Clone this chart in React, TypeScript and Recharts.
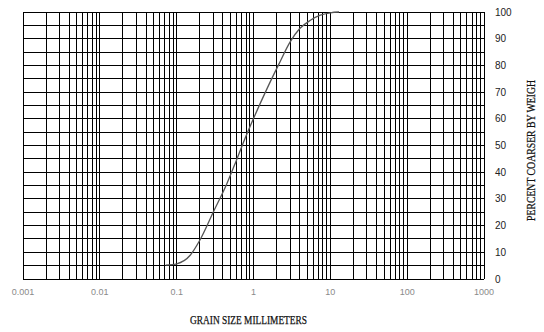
import React from 'react';
import { LineChart, Line, XAxis, YAxis, ReferenceLine, Label } from 'recharts';

const grainSize = [0.072, 0.1, 0.15, 0.2, 0.3, 0.45, 0.6, 0.78, 1.0, 1.5, 2.1, 3.0, 4.0, 5.5, 7.4, 10, 13];
const percentCoarser = [5.2, 5.7, 8.9, 14.5, 25.1, 35.7, 44.5, 52.8, 60.1, 71.3, 80.0, 88.8, 93.8, 96.9, 98.8, 99.7, 100];

const xTicks = [0.001, 0.01, 0.1, 1, 10, 100, 1000];
const xTickLabels = ['0.001', '0.01', '0.1', '1', '10', '100', '1000'];
const yTicks = [0, 10, 20, 30, 40, 50, 60, 70, 80, 90, 100];
const decades = [0.001, 0.01, 0.1, 1, 10, 100];
const minorMultipliers = [1, 2, 3, 4, 5, 6, 7, 8, 9];
const yGrid = [0, 5, 10, 15, 20, 25, 30, 35, 40, 45, 50, 55, 60, 65, 70, 75, 80, 85, 90, 95, 100];

const xGrid: number[] = [];
decades.forEach((d) => minorMultipliers.forEach((m) => xGrid.push(+(d * m).toPrecision(3))));
xGrid.push(1000);

const data = grainSize.map((s, i) => ({ size: s, pct: percentCoarser[i] }));

const labelFont = '"Liberation Serif", "DejaVu Serif", serif';

export default function App() {
  return (
    <div style={{ position: 'absolute', left: 0, top: 0, width: 544, height: 332, background: '#fff' }}>
      <LineChart width={544} height={332} data={data} margin={{ top: 12, right: 0, bottom: 0, left: 23 }}>
        <XAxis
          dataKey="size"
          type="number"
          scale="log"
          domain={[0.001, 1000]}
          ticks={xTicks}
          allowDataOverflow
          axisLine={false}
          tickLine={false}
          tickMargin={4}
          height={53}
          interval={0}
          tick={{ fontSize: 9, fill: '#8a8a8a', fontFamily: 'Arial, "Liberation Sans", sans-serif' }}
          tickFormatter={(v: number) => xTickLabels[xTicks.indexOf(v)] ?? String(v)}
        >
          <Label
            content={(props: any) => {
              const vb = props.viewBox || {};
              const cx = vb.x + vb.width / 2 - 5;
              return (
                <text
                  x={cx}
                  y={324}
                  textAnchor="middle"
                  fontFamily={labelFont}
                  fontSize={11.5}
                  fill="#111"
                  stroke="#111"
                  strokeWidth={0.25}
                  textLength={117}
                  lengthAdjust="spacingAndGlyphs"
                >
                  GRAIN SIZE MILLIMETERS
                </text>
              );
            }}
          />
        </XAxis>
        <YAxis
          orientation="right"
          type="number"
          domain={[0, 100]}
          ticks={yTicks}
          interval={0}
          width={60}
          axisLine={false}
          tickLine={false}
          tickMargin={5}
          tick={{ fontSize: 10, fill: '#222', fontFamily: 'Arial, "Liberation Sans", sans-serif' }}
        >
          <Label
            content={(props: any) => {
              const vb = props.viewBox || {};
              const cx = 531;
              const cy = vb.y + vb.height / 2 + 5;
              return (
                <text
                  x={cx}
                  y={cy}
                  textAnchor="middle"
                  dominantBaseline="central"
                  transform={`rotate(-90 ${cx} ${cy})`}
                  fontFamily={labelFont}
                  fontSize={11.5}
                  fill="#111"
                  stroke="#111"
                  strokeWidth={0.25}
                  textLength={141}
                  lengthAdjust="spacingAndGlyphs"
                >
                  PERCENT COARSER BY WEIGH
                </text>
              );
            }}
          />
        </YAxis>
        {xGrid.map((v) => (
          <ReferenceLine key={'x' + v} x={v} stroke="#000" strokeWidth={1} shapeRendering="crispEdges" ifOverflow="visible" />
        ))}
        {yGrid.map((v) => (
          <ReferenceLine key={'y' + v} y={v} stroke="#000" strokeWidth={1} shapeRendering="crispEdges" ifOverflow="visible" />
        ))}
        <Line
          type="monotone"
          dataKey="pct"
          stroke="#555"
          strokeWidth={1.3}
          dot={false}
          isAnimationActive={false}
        />
      </LineChart>
    </div>
  );
}
